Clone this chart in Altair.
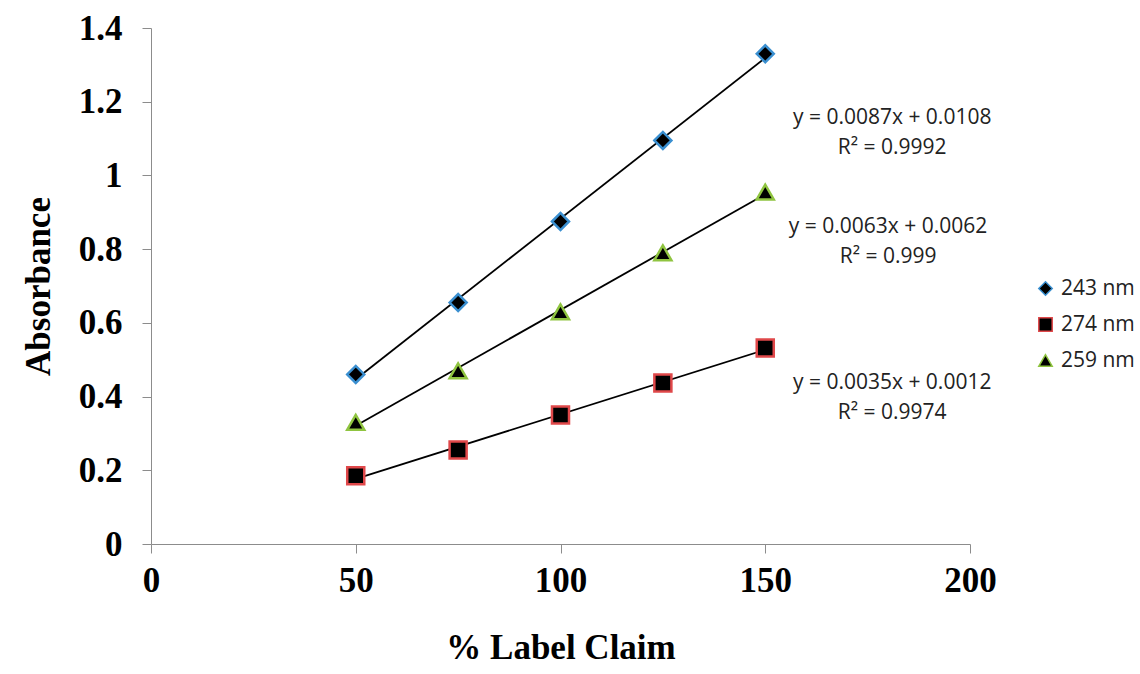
import altair as alt
import pandas as pd

label_claim = [50, 75, 100, 125, 150]
abs_243 = [0.46, 0.655, 0.875, 1.095, 1.33]
abs_274 = [0.185, 0.255, 0.35, 0.437, 0.532]
abs_259 = [0.33, 0.47, 0.63, 0.79, 0.955]
series_names = ["243 nm", "274 nm", "259 nm"]

ann_text = ["y = 0.0087x + 0.0108", "R² = 0.9992",
            "y = 0.0063x + 0.0062", "R² = 0.999",
            "y = 0.0035x + 0.0012", "R² = 0.9974"]
ann_x = [181, 181, 180, 180, 181, 181]
ann_y = [1.155, 1.075, 0.859, 0.779, 0.436, 0.355]

rows = []
for name, vals in zip(series_names, [abs_243, abs_274, abs_259]):
    for x, v in zip(label_claim, vals):
        rows.append({"series": name, "x": x, "y": v})
df = pd.DataFrame(rows)
ann = pd.DataFrame({"text": ann_text, "x": ann_x, "y": ann_y})

xscale = alt.Scale(domain=[0, 200], nice=False)
yscale = alt.Scale(domain=[0, 1.4], nice=False)
shape_scale = alt.Scale(domain=series_names, range=["diamond", "square", "triangle-up"])
stroke_scale = alt.Scale(domain=series_names, range=["#3a8fd0", "#e0484a", "#8fc440"])

xaxis = alt.Axis(values=[0, 50, 100, 150, 200], grid=False, domainColor="#8c8c8c",
                 tickColor="#8c8c8c", tickSize=9, labelFont="Liberation Serif",
                 labelFontWeight="bold", labelFontSize=35, labelColor="black",
                 labelFlush=False, labelPadding=10, title="% Label Claim",
                 titleFont="Liberation Serif", titleFontSize=35, titleFontWeight="bold",
                 titleColor="black", titlePadding=32)
yaxis = alt.Axis(values=[0, 0.2, 0.4, 0.6, 0.8, 1.0, 1.2, 1.4], format="~g", grid=False,
                 domainColor="#8c8c8c", tickColor="#8c8c8c", tickSize=9,
                 labelFont="Liberation Serif", labelFontWeight="bold", labelFontSize=35,
                 labelColor="black", labelFlush=False, labelPadding=20, title="Absorbance",
                 titleFont="Liberation Serif", titleFontSize=35, titleFontWeight="bold",
                 titleColor="black", titlePadding=22)

lines = alt.Chart(df).transform_regression(
    "x", "y", groupby=["series"], extent=[50, 150]
).mark_line(color="black", strokeWidth=1.8).encode(
    x=alt.X("x:Q", scale=xscale, axis=xaxis),
    y=alt.Y("y:Q", scale=yscale, axis=yaxis),
    detail="series:N",
)

points = alt.Chart(df).mark_point(filled=True, fill="black", strokeWidth=2.5, size=290, opacity=1).encode(
    x=alt.X("x:Q", scale=xscale),
    y=alt.Y("y:Q", scale=yscale),
    shape=alt.Shape("series:N", scale=shape_scale,
                    legend=alt.Legend(title=None, orient="none", legendX=884, legendY=250,
                                      labelFont="Open Sans", labelFontSize=21,
                                      labelColor="#222", symbolFillColor="black",
                                      symbolStrokeWidth=1.5, symbolSize=180, rowPadding=14,
                                      labelOffset=5)),
    stroke=alt.Stroke("series:N", scale=stroke_scale),
)

text = alt.Chart(ann).mark_text(font="Open Sans", fontSize=21, color="#222", align="center").encode(
    x=alt.X("x:Q", scale=xscale),
    y=alt.Y("y:Q", scale=yscale),
    text="text:N",
)

chart = alt.layer(lines, points, text).properties(
    width=819, height=516,
    background="white",
    autosize=alt.AutoSizeParams(type="none"),
    padding={"left": 151, "top": 28, "right": 170, "bottom": 130},
).configure_view(stroke=None)

chart.save("out.html", embed_options={"renderer": "svg", "actions": False})
